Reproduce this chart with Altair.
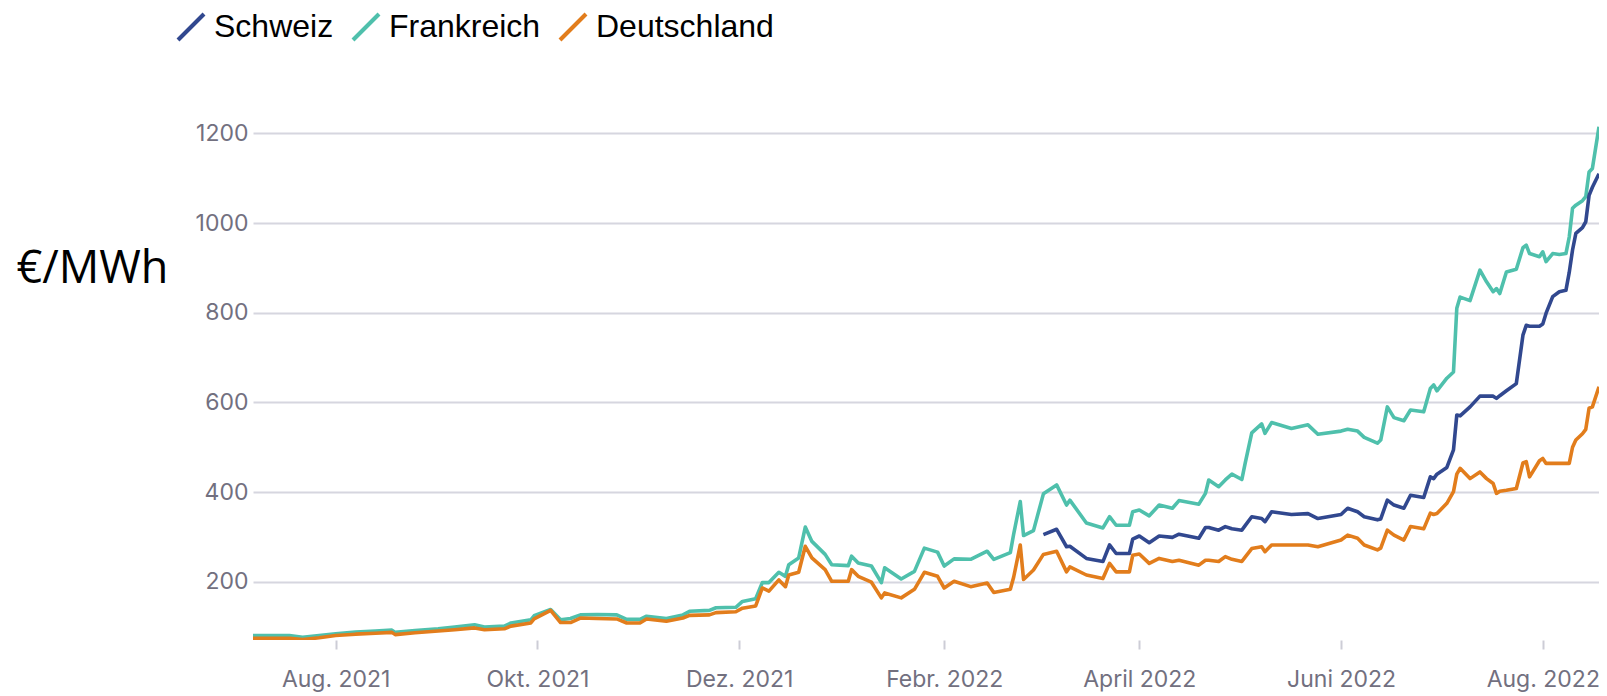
import altair as alt
import pandas as pd

dates = [
    "2021-07-07", "2021-07-12", "2021-07-18", "2021-07-22", "2021-07-27",
    "2021-08-01", "2021-08-07", "2021-08-13", "2021-08-18", "2021-08-19",
    "2021-08-25", "2021-09-01", "2021-09-06", "2021-09-12", "2021-09-15",
    "2021-09-21", "2021-09-23", "2021-09-29", "2021-09-30", "2021-10-05",
    "2021-10-08", "2021-10-11", "2021-10-14", "2021-10-19", "2021-10-25",
    "2021-10-28", "2021-11-01", "2021-11-03", "2021-11-09", "2021-11-14",
    "2021-11-16", "2021-11-22", "2021-11-24", "2021-11-30", "2021-12-02",
    "2021-12-06", "2021-12-08", "2021-12-10", "2021-12-13", "2021-12-15",
    "2021-12-16", "2021-12-19", "2021-12-21", "2021-12-23", "2021-12-27",
    "2021-12-29", "2022-01-03", "2022-01-04", "2022-01-06", "2022-01-10",
    "2022-01-13", "2022-01-14", "2022-01-19", "2022-01-23", "2022-01-26",
    "2022-01-30", "2022-02-01", "2022-02-04", "2022-02-09", "2022-02-14",
    "2022-02-16", "2022-02-21", "2022-02-22", "2022-02-24", "2022-02-25",
    "2022-02-28", "2022-03-03", "2022-03-07", "2022-03-10", "2022-03-11",
    "2022-03-16", "2022-03-21", "2022-03-23", "2022-03-25", "2022-03-29",
    "2022-03-30", "2022-04-01", "2022-04-04", "2022-04-07", "2022-04-11",
    "2022-04-13", "2022-04-19", "2022-04-21", "2022-04-22", "2022-04-25",
    "2022-04-27", "2022-04-29", "2022-05-02", "2022-05-03", "2022-05-05",
    "2022-05-08", "2022-05-09", "2022-05-11", "2022-05-17", "2022-05-22",
    "2022-05-25", "2022-06-01", "2022-06-03", "2022-06-06", "2022-06-08",
    "2022-06-12", "2022-06-13", "2022-06-15", "2022-06-17", "2022-06-20",
    "2022-06-22", "2022-06-26", "2022-06-28", "2022-06-29", "2022-06-30",
    "2022-07-03", "2022-07-05", "2022-07-06", "2022-07-07", "2022-07-10",
    "2022-07-13", "2022-07-15", "2022-07-17", "2022-07-18", "2022-07-19",
    "2022-07-21", "2022-07-24", "2022-07-26", "2022-07-27", "2022-07-28",
    "2022-07-31", "2022-08-01", "2022-08-02", "2022-08-04", "2022-08-06",
    "2022-08-08", "2022-08-09", "2022-08-10", "2022-08-11", "2022-08-13",
    "2022-08-14", "2022-08-15", "2022-08-16", "2022-08-18",
]

frankreich = [
    80, 80, 80, 76, 80,
    84, 88, 90, 92, 87,
    91, 95, 99, 104, 99,
    101, 108, 115, 124, 138,
    115, 118, 126, 127, 126,
    116, 116, 123, 118, 126,
    134, 136, 142, 143, 156,
    162, 198, 198, 221, 212,
    238, 253, 322, 290, 261,
    238, 236, 257, 242, 235,
    198, 231, 206, 223, 275,
    266, 235, 251, 250, 268,
    250, 265, 306, 379, 303,
    314, 396, 416, 371, 382,
    331, 320, 345, 326, 326,
    356, 360, 347, 371, 364,
    381, 373, 397, 427, 412,
    427, 440, 428, 464, 532,
    552, 531, 555, 542, 550,
    529, 536, 540, 536, 522,
    509, 516, 590, 566, 559,
    583, 579, 631, 639, 626,
    654, 668, 810, 835, 827,
    895, 869, 847, 854, 843,
    891, 897, 945, 951, 932,
    925, 936, 914, 932, 930,
    932, 969, 1033, 1040, 1050,
    1059, 1114, 1122, 1215,
]

deutschland = [
    74, 74, 74, 71, 75,
    80, 83, 85, 87, 82,
    86, 90, 93, 97, 93,
    95, 101, 108, 117, 136,
    109, 109, 119, 118, 117,
    108, 108, 117, 112, 119,
    125, 126, 131, 133, 141,
    146, 186, 179, 204, 189,
    215, 221, 279, 253, 227,
    201, 201, 227, 212, 199,
    164, 175, 164, 183, 221,
    212, 186, 201, 189, 197,
    176, 183, 210, 282, 205,
    226, 261, 268, 222, 233,
    215, 207, 241, 222, 222,
    259, 262, 241, 252, 245,
    248, 237, 248, 248, 245,
    256, 250, 245, 255, 274,
    278, 267, 282, 282, 282,
    278, 293, 304, 297, 282,
    271, 275, 315, 304, 293,
    323, 318, 353, 350, 352,
    375, 401, 440, 453, 430,
    445, 430, 419, 397, 402,
    404, 408, 465, 468, 434,
    470, 475, 464, 464, 464,
    464, 464, 500, 516, 530,
    540, 587, 590, 635,
]

schweiz = [None] * 66 + [
    305, 317, 278, 279,
    252, 245, 282, 263, 263,
    295, 302, 287, 302, 299,
    306, 297, 321, 321, 315,
    323, 318, 315, 325, 345,
    341, 334, 356, 350, 352,
    341, 350, 364, 356, 345,
    338, 340, 382, 371, 364,
    393, 388, 434, 430, 440,
    455, 494, 572, 570, 590,
    614, 614, 614, 609, 615,
    626, 642, 750, 772, 770,
    770, 775, 799, 836, 847,
    850, 890, 940, 977, 990,
    1003, 1062, 1080, 1110,
]

series_order = ["Schweiz", "Frankreich", "Deutschland"]
series_colors = ["#31488f", "#4fc0ac", "#e27d1c"]

rows = []
draw_order = {"Frankreich": 0, "Schweiz": 1, "Deutschland": 2}
for name, vals in [("Frankreich", frankreich), ("Schweiz", schweiz), ("Deutschland", deutschland)]:
    for d, v in zip(dates, vals):
        if v is not None:
            rows.append({"datum": d, "wert": v, "land": name, "ord": draw_order[name]})
df = pd.DataFrame(rows)

month_names = "['Jan.','Febr.','März','April','Mai','Juni','Juli','Aug.','Sept.','Okt.','Nov.','Dez.']"
tick_dates = [
    alt.DateTime(year=2021, month=8, date=1, utc=True),
    alt.DateTime(year=2021, month=10, date=1, utc=True),
    alt.DateTime(year=2021, month=12, date=1, utc=True),
    alt.DateTime(year=2022, month=2, date=1, utc=True),
    alt.DateTime(year=2022, month=4, date=1, utc=True),
    alt.DateTime(year=2022, month=6, date=1, utc=True),
    alt.DateTime(year=2022, month=8, date=1, utc=True),
]

chart = alt.Chart(df).mark_line(strokeWidth=3.6, clip=True, strokeJoin="round").encode(
    x=alt.X(
        "datum:T",
        scale=alt.Scale(
            type="utc",
            domain=[
                alt.DateTime(year=2021, month=7, date=7, utc=True),
                alt.DateTime(year=2022, month=8, date=18, utc=True),
            ],
        ),
        axis=alt.Axis(
            values=tick_dates,
            labelExpr=month_names + "[utcmonth(datum.value)] + ' ' + utcyear(datum.value)",
            title=None,
            grid=False,
            domain=False,
            ticks=True,
            tickColor="#cdcdd6",
            tickWidth=2,
            tickSize=9,
            labelFont="Inter",
            labelFontSize=23,
            labelColor="#72707f",
            labelPadding=19,
        ),
    ),
    y=alt.Y(
        "wert:Q",
        scale=alt.Scale(domain=[70, 1230], nice=False, zero=False),
        axis=alt.Axis(
            values=[200, 400, 600, 800, 1000, 1200],
            format="d",
            title="€/MWh",
            titleAngle=0,
            titleAlign="left",
            titleBaseline="alphabetic",
            titleX=-237,
            titleY=162,
            titleFont="Open Sans",
            titleFontSize=45,
            titleFontWeight="normal",
            titleColor="#000000",
            grid=True,
            gridColor="#d6d6df",
            gridWidth=2,
            domain=False,
            ticks=False,
            labelFont="Inter",
            labelFontSize=23,
            labelColor="#72707f",
            labelPadding=5,
        ),
    ),
    color=alt.Color(
        "land:N",
        scale=alt.Scale(domain=series_order, range=series_colors),
        legend=alt.Legend(
            title=None,
            orient="none",
            direction="horizontal",
            legendX=-78,
            legendY=-109,
            symbolType="M-1,1L1,-1",
            symbolSize=676,
            symbolStrokeWidth=4,
            symbolFillColor="transparent",
            labelFont="Liberation Sans",
            labelFontSize=32,
            labelColor="#000000",
            labelLimit=0,
            labelOffset=7,
            columnPadding=11,
            symbolOffset=0,
        ),
    ),
    order=alt.Order("ord:Q"),
    detail="land:N",
).properties(
    width=1346,
    height=520,
    autosize=alt.AutoSizeParams(type="none"),
    padding={"left": 245, "top": 112, "right": 0, "bottom": 56},
    background="white",
).configure_view(strokeWidth=0, stroke=None)

chart.save("out.html", embed_options={"renderer": "svg", "actions": False})
